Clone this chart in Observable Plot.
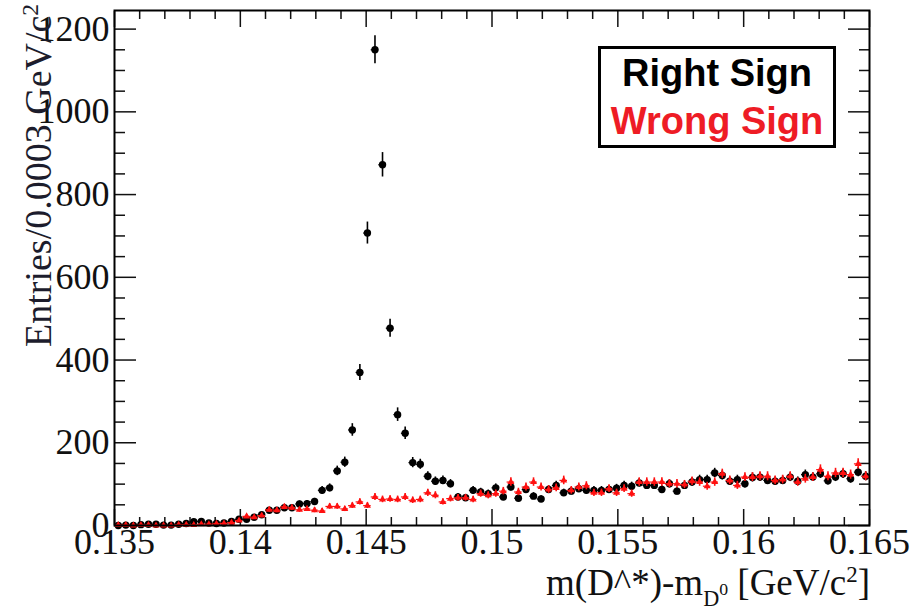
<!DOCTYPE html>
<html>
<head>
<meta charset="utf-8">
<script src="https://cdn.jsdelivr.net/npm/d3@7"></script>
<script src="https://cdn.jsdelivr.net/npm/@observablehq/plot@0.6"></script>
<style>
  body { margin: 0; background: #fff; }
  #wrap { position: relative; width: 922px; height: 613px; overflow: hidden; background: #fff; }
  #wrap svg { position: absolute; left: 0; top: 0; }
  .serif { font-family: "Liberation Serif", "Times New Roman", serif; color: #111; white-space: nowrap; }
  #ytitle { position: absolute; left: 19px; top: 347px; font-size: 38px; line-height: 38px; transform-origin: 0 0; transform: rotate(-90deg); color: #1c1c2c; }
  #xtitle { position: absolute; right: 52px; top: 564px; font-size: 37px; line-height: 37px; }
  .sub { font-size: 0.6em; position: relative; top: 0.5em; }
  .sup { font-size: 0.62em; position: relative; top: -0.55em; }
  .sub .sup { font-size: 0.8em; top: -0.6em; }
  #legend { position: absolute; left: 598px; top: 46px; width: 232px; height: 96px; border: 3px solid #000; background: #fff;
            font-family: "Liberation Sans", Arial, sans-serif; font-weight: bold; font-size: 38px; line-height: 48px; text-align: center; }
</style>
</head>
<body>
<div id="wrap"></div>
<script>
// ---- data (histogram, bins of 0.0003 GeV/c^2 from 0.135 to 0.165) ----
const binStart = 0.135;
const binWidth = 0.0003;

const rightSign = [
  0, 1, 0, 2, 3, 3, 1, 1, 3, 5,
  9, 10, 6, 5, 6, 10, 15, 15, 20, 26,
  37, 37, 43, 43, 52, 53, 58, 85, 91, 132,
  153, 231, 370, 707, 1150, 872, 477, 268, 223, 152,
  148, 119, 107, 109, 101, 69, 67, 85, 81, 77,
  91, 69, 93, 66, 87, 71, 64, 87, 97, 79,
  83, 89, 85, 85, 85, 87, 90, 97, 95, 103,
  97, 97, 87, 101, 83, 97, 105, 111, 111, 127,
  121, 107, 111, 101, 116, 117, 109, 107, 109, 117,
  107, 123, 117, 125, 108, 117, 125, 113, 129, 119
];

const wrongSign = [
  1, 1, 0, 1, 1, 0, 0, 0, 2, 2,
  1, 3, 3, 4, 5, 7, 12, 22, 20, 24,
  38, 37, 45, 43, 38, 40, 37, 35, 46, 46,
  40, 48, 57, 48, 69, 63, 64, 63, 69, 61,
  63, 79, 73, 57, 65, 67, 67, 63, 77, 73,
  77, 83, 105, 81, 93, 105, 93, 87, 91, 109,
  85, 93, 96, 79, 79, 89, 79, 89, 77, 105,
  105, 105, 105, 101, 101, 99, 107, 105, 95, 105,
  125, 109, 97, 117, 117, 119, 119, 109, 111, 119,
  105, 113, 117, 135, 119, 127, 127, 123, 149, 119
];

const xTicks = [0.135, 0.14, 0.145, 0.15, 0.155, 0.16, 0.165];
const xTickLabels = ["0.135", "0.14", "0.145", "0.15", "0.155", "0.16", "0.165"];
const xMinorTicks = [0.136, 0.137, 0.138, 0.139, 0.141, 0.142, 0.143, 0.144, 0.146, 0.147, 0.148, 0.149,
                     0.151, 0.152, 0.153, 0.154, 0.156, 0.157, 0.158, 0.159, 0.161, 0.162, 0.163, 0.164];
const yTicks = [0, 200, 400, 600, 800, 1000, 1200];
const yTickLabels = ["0", "200", "400", "600", "800", "1000", "1200"];
const yMinorTicks = [50, 100, 150, 250, 300, 350, 450, 500, 550, 650, 700, 750, 850, 900, 950, 1050, 1100, 1150];

const xDomain = [0.135, 0.165];
const yDomain = [0, 1245];

const seriesNames = ["Right Sign", "Wrong Sign"];
const seriesColors = ["#000000", "#ff1010"];

// ---- build rows ----
const toRows = arr => arr.map((n, i) => ({x: binStart + binWidth * (i + 0.5), n}));
const rs = toRows(rightSign);
const ws = toRows(wrongSign);

const xLab = new Map(xTicks.map((t, i) => [t, xTickLabels[i]]));
const yLab = new Map(yTicks.map((t, i) => [t, yTickLabels[i]]));
const blank = () => "";

function seriesMarks(rows, color, symbol, r) {
  return [
    Plot.ruleX(rows, {x: "x", y1: d => d.n - Math.sqrt(d.n), y2: d => d.n + Math.sqrt(d.n), stroke: color, strokeWidth: 1.6}),
    Plot.ruleY(rows, {y: "n", x1: d => d.x - binWidth / 2, x2: d => d.x + binWidth / 2, stroke: color, strokeWidth: 1.2}),
    Plot.dot(rows, {x: "x", y: "n", r, symbol, fill: color, stroke: "none"})
  ];
}

const plot = Plot.plot({
  width: 922,
  height: 613,
  marginLeft: 114,
  marginRight: 53,
  marginTop: 10,
  marginBottom: 88,
  x: {domain: xDomain},
  y: {domain: yDomain},
  style: {fontFamily: "'Liberation Serif', 'Times New Roman', serif", fontSize: "36px", color: "#111", background: "transparent"},
  marks: [
    // inward ticks on all four sides
    Plot.axisX(xMinorTicks, {anchor: "bottom", tickSize: -8, tickFormat: blank, label: null, strokeWidth: 1.5}),
    Plot.axisX(xTicks, {anchor: "bottom", tickSize: -16, tickFormat: blank, label: null, strokeWidth: 1.5}),
    Plot.axisX(xMinorTicks, {anchor: "top", tickSize: -8, tickFormat: blank, label: null, strokeWidth: 1.5}),
    Plot.axisX(xTicks, {anchor: "top", tickSize: -16, tickFormat: blank, label: null, strokeWidth: 1.5}),
    Plot.axisY(yMinorTicks, {anchor: "left", tickSize: -11, tickFormat: blank, label: null, strokeWidth: 1.5}),
    Plot.axisY(yTicks, {anchor: "left", tickSize: -22, tickFormat: blank, label: null, strokeWidth: 1.5}),
    Plot.axisY(yMinorTicks, {anchor: "right", tickSize: -11, tickFormat: blank, label: null, strokeWidth: 1.5}),
    Plot.axisY(yTicks, {anchor: "right", tickSize: -22, tickFormat: blank, label: null, strokeWidth: 1.5}),
    // tick labels
    Plot.axisX(xTicks, {anchor: "bottom", tickSize: 0, tickPadding: 3, tickFormat: d => xLab.get(d), label: null}),
    Plot.axisY(yTicks, {anchor: "left", tickSize: 0, tickPadding: 5, tickFormat: d => yLab.get(d), label: null}),
    // data
    ...seriesMarks(rs, seriesColors[0], "circle", 3.7),
    ...seriesMarks(ws, seriesColors[1], "triangle", 2.6),
    Plot.frame({stroke: "#000", strokeWidth: 2})
  ]
});

const wrap = document.getElementById("wrap");
wrap.appendChild(plot);

const yt = document.createElement("div");
yt.id = "ytitle"; yt.className = "serif";
yt.innerHTML = "Entries/0.0003 GeV/c<span class='sup'>2</span>";
wrap.appendChild(yt);

const xt = document.createElement("div");
xt.id = "xtitle"; xt.className = "serif";
xt.innerHTML = "m(D^*)-m<span class='sub'>D<span class='sup'>0</span></span> [GeV/c<span class='sup'>2</span>]";
wrap.appendChild(xt);

const lg = document.createElement("div");
lg.id = "legend";
seriesNames.forEach((name, i) => {
  const line = document.createElement("div");
  line.textContent = name;
  line.style.color = seriesColors[i] === "#000000" ? "#000" : "#ee1c25";
  lg.appendChild(line);
});
wrap.appendChild(lg);
</script>
</body>
</html>
